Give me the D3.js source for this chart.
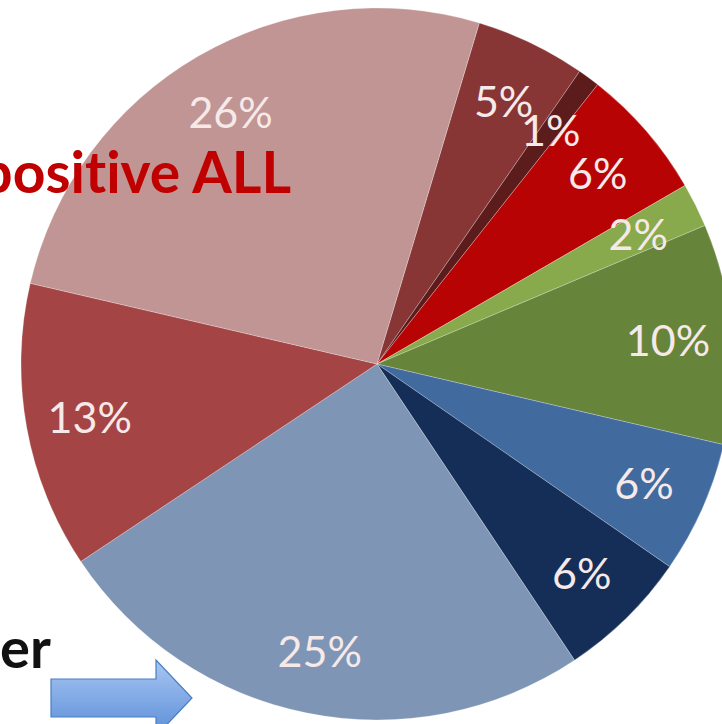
<!DOCTYPE html>
<html><head><meta charset="utf-8">
<script src="https://cdn.jsdelivr.net/npm/d3@7"></script>
<style>html,body{margin:0;padding:0;background:#fff;overflow:hidden}</style>
</head><body>
<svg id="chart" width="722" height="724"></svg>
<script>
const categories = ["A","B","C","D","E","F","G","H","I","J"];
const values = [5, 1, 6, 2, 10, 6, 6, 25, 13, 26];
const labels = ["5%","1%","6%","2%","10%","6%","6%","25%","13%","26%"];
const colors = ["#873535","#5c1c1c","#b70303","#88aa4c","#66843a","#416a9f","#142e57","#7f95b5","#a54444","#c09594"];
const titleText = "positive ALL";
const sideText = "er";

const svg = d3.select("#chart");
const cx = 377, cy = 364, R = 356;
const start = 16.7 * Math.PI / 180;

const pie = d3.pie().sort(null).value(d => d).startAngle(start).endAngle(start + 2 * Math.PI);
const arcs = pie(values);
const arc = d3.arc().innerRadius(0).outerRadius(R);
const labelArc = d3.arc().innerRadius(292).outerRadius(292);

const g = svg.append("g").attr("transform", `translate(${cx},${cy})`);
g.selectAll("path").data(arcs).join("path")
  .attr("d", arc)
  .attr("fill", (d, i) => colors[i])
  .attr("stroke", "rgba(255,255,255,0.25)")
  .attr("stroke-width", 1);

g.selectAll("text.lbl").data(arcs).join("text")
  .attr("class", "lbl")
  .attr("transform", d => `translate(${labelArc.centroid(d)})`)
  .attr("text-anchor", "middle")
  .attr("dominant-baseline", "central")
  .attr("font-family", "Lato, 'Open Sans', sans-serif")
  .attr("font-size", 43)
  .attr("fill", "#f6e9e9")
  .text((d, i) => labels[i]);

// Title overlay text
svg.append("text")
  .attr("x", 291).attr("y", 193)
  .attr("text-anchor", "end")
  .attr("font-family", "Lato, 'Open Sans', sans-serif")
  .attr("font-weight", "bold")
  .attr("font-size", 57)
  .style("font-variant-ligatures", "none")
  .attr("fill", "#c00000")
  .text(titleText);

svg.append("text")
  .attr("x", 0).attr("y", 668)
  .attr("text-anchor", "start")
  .attr("font-family", "Lato, 'Open Sans', sans-serif")
  .attr("font-weight", "bold")
  .attr("font-size", 56)
  .attr("fill", "#111")
  .text(sideText);

// Arrow
const defs = svg.append("defs");
const grad = defs.append("linearGradient").attr("id", "ag").attr("x1", 0).attr("y1", 0).attr("x2", 0).attr("y2", 1);
grad.append("stop").attr("offset", "0%").attr("stop-color", "#a9c6f2");
grad.append("stop").attr("offset", "100%").attr("stop-color", "#5b8ed8");
const ap = d3.path();
ap.moveTo(51, 679); ap.lineTo(156, 679); ap.lineTo(156, 660); ap.lineTo(192, 698);
ap.lineTo(156, 736); ap.lineTo(156, 717); ap.lineTo(51, 717); ap.closePath();
svg.append("path").attr("d", ap.toString())
  .attr("fill", "url(#ag)").attr("stroke", "#4a7cc6").attr("stroke-width", 1.2);
</script>
</body></html>
